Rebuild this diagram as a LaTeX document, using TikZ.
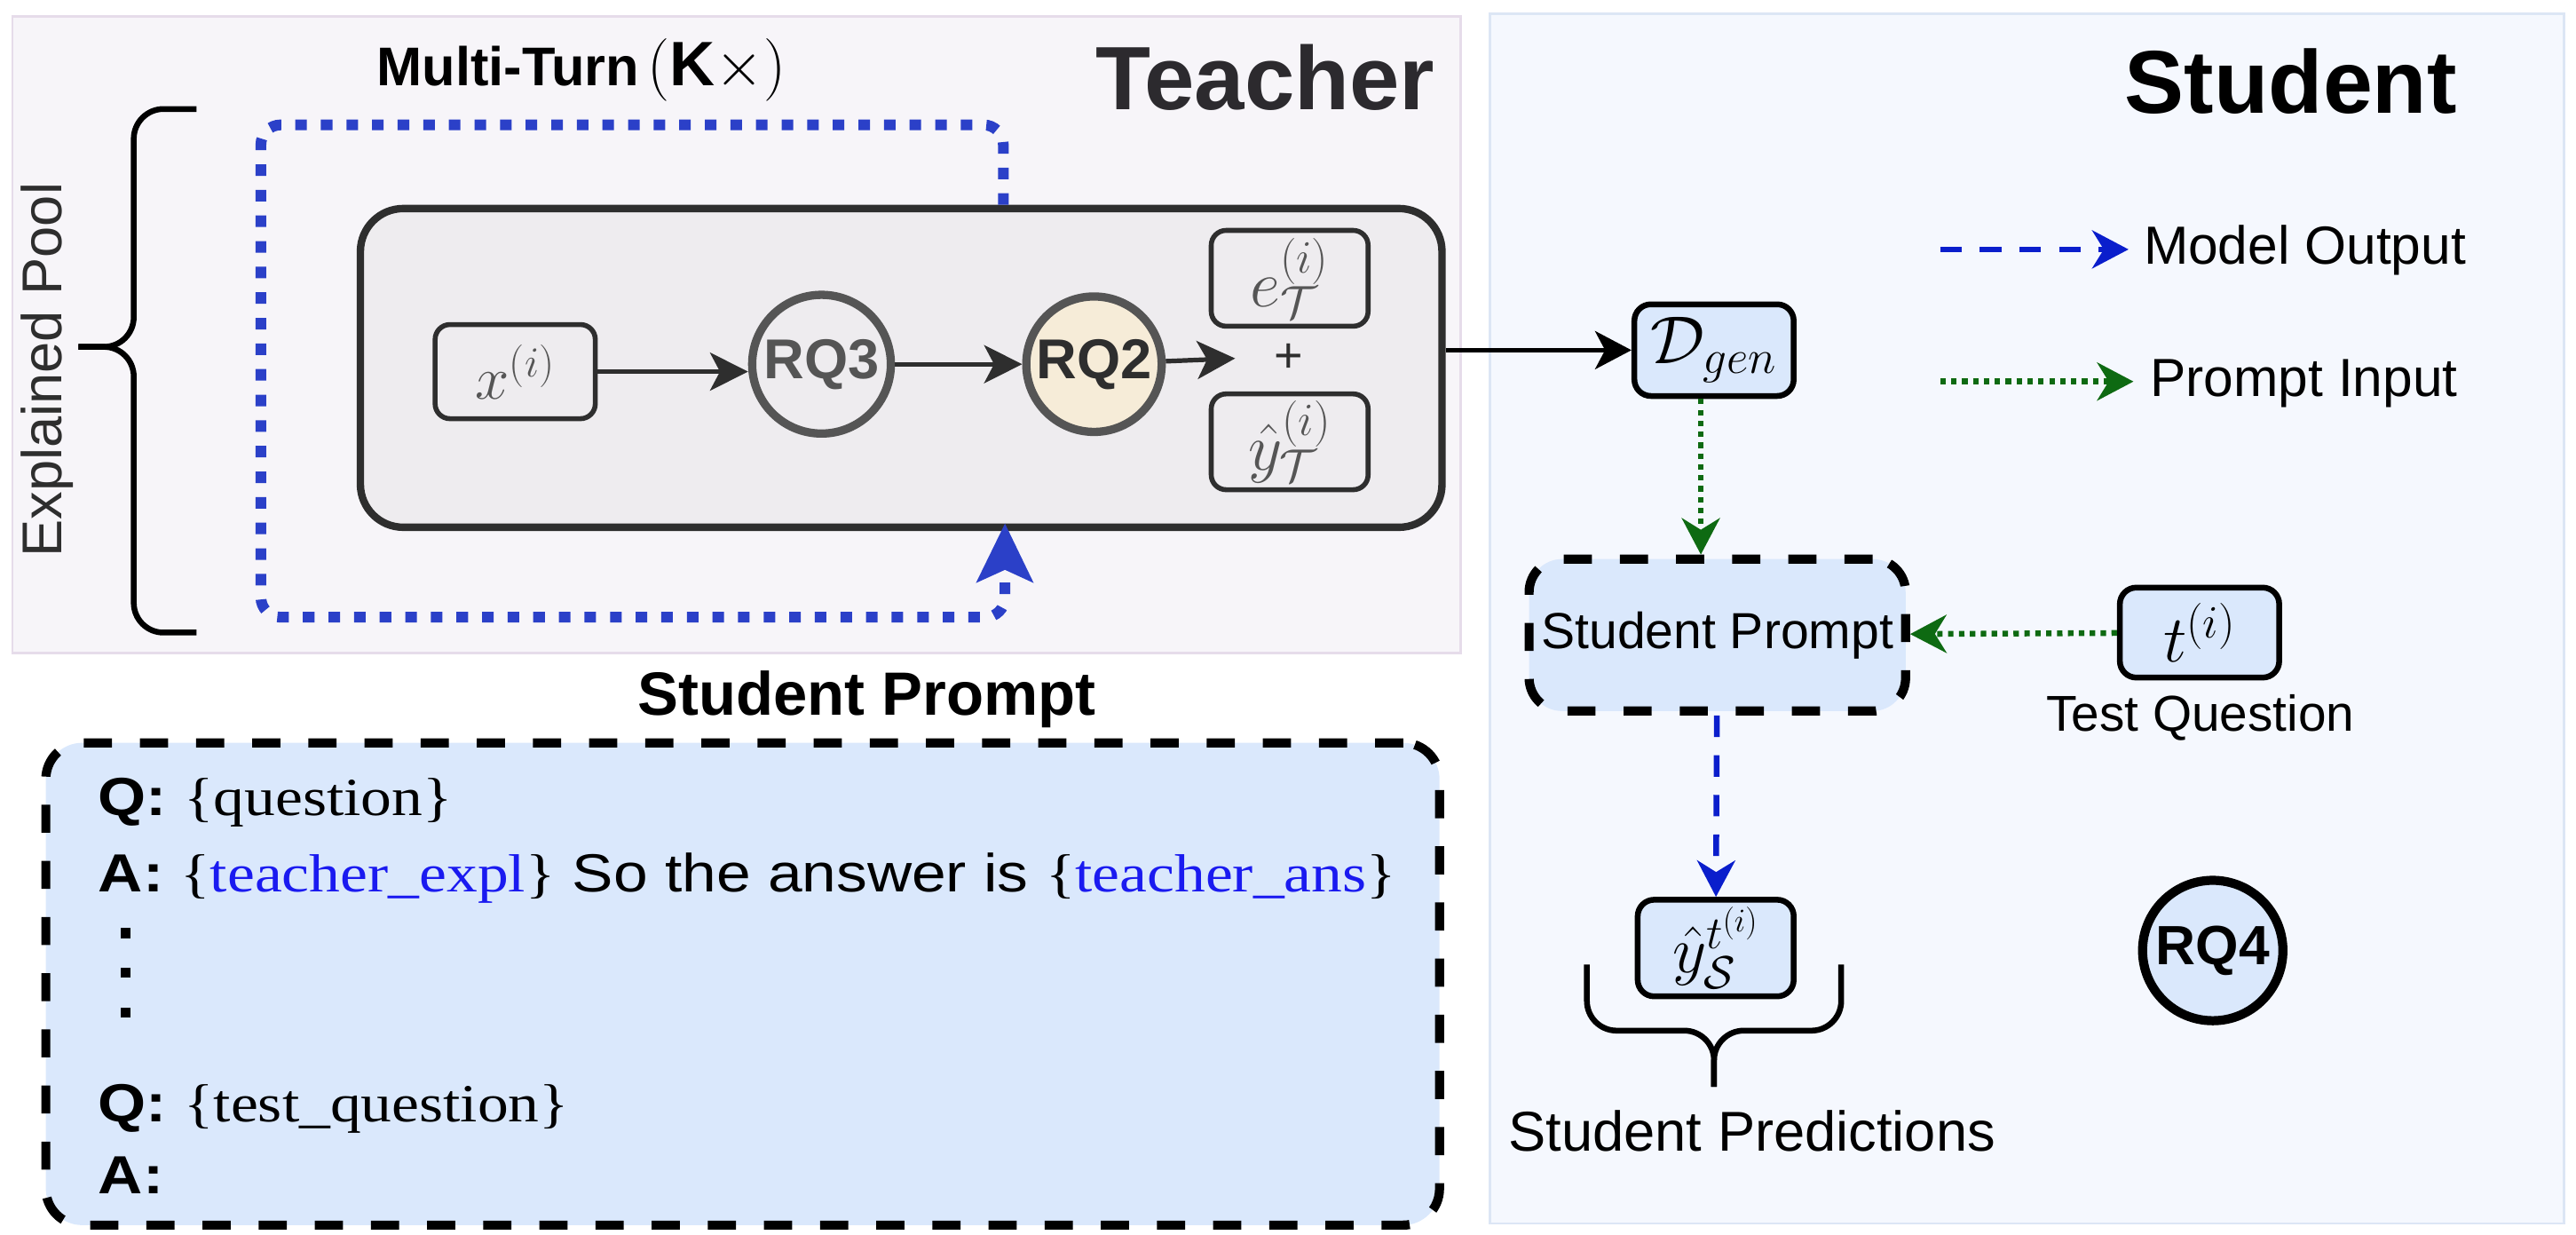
\RequirePackage{fix-cm}
\documentclass[tikz,border=0pt]{standalone}
\usepackage{fontspec}
\setmainfont{Liberation Sans}
\newfontfamily\promptsans[FakeStretch=1.15]{Liberation Sans}
\newfontfamily\promptserif[FakeStretch=1.15]{Liberation Serif}
\usetikzlibrary{arrows.meta,calc}
\definecolor{tfill}{HTML}{F7F5F9}
\definecolor{tborder}{HTML}{E6DCEA}
\definecolor{sfill}{HTML}{F5F8FE}
\definecolor{sborder}{HTML}{DCE6F5}
\definecolor{innerfill}{HTML}{EEECEF}
\definecolor{darkline}{HTML}{2E2E2E}
\definecolor{titlegray}{HTML}{2C2A2E}
\definecolor{grayline}{HTML}{555555}
\definecolor{cream}{HTML}{F6ECD8}
\definecolor{lblue}{HTML}{DAE8FC}
\definecolor{loopblue}{HTML}{2B40C8}
\definecolor{outblue}{HTML}{0A1ECC}
\definecolor{ingreen}{HTML}{0E6A12}
\definecolor{txtblue}{HTML}{1A1AF0}
\tikzset{
  lbl/.style={font=\fontsize{30.5}{36}\selectfont, inner sep=0},
  lgnd/.style={font=\fontsize{32.5}{38}\selectfont, inner sep=0, anchor=base west},
  pline/.style={font=\fontsize{32.5}{38}\promptsans\selectfont, inner sep=0, anchor=base west},
  panelT/.style={draw=tborder, fill=tfill, line width=1.5, inner sep=0},
  panelS/.style={draw=sborder, fill=sfill, line width=1.5, inner sep=0},
  innerbox/.style={draw=darkline, fill=innerfill, line width=4.5, rounded corners=26, inner sep=0},
  smallbox/.style={draw=darkline, fill=innerfill, line width=3, rounded corners=9, inner sep=0, text=grayline, font=\fontsize{40}{46}\selectfont},
  bluebox/.style={draw=black, fill=lblue, line width=3.5, rounded corners=10, inner sep=0, font=\fontsize{41}{46}\selectfont},
  dashbox/.style={draw=black, fill=lblue, line width=5.5, dash pattern=on 17 off 17, rounded corners=20, inner sep=0},
  rqcircle/.style={circle, draw=grayline, fill=innerfill, line width=5, inner sep=0, text=grayline, font=\fontsize{34}{40}\selectfont\bfseries},
  rqfour/.style={circle, draw=black, fill=lblue, line width=5.5, inner sep=0, font=\fontsize{33.5}{38}\selectfont\bfseries},
  darkarrow/.style={draw=darkline, line width=2.8, -{Stealth[length=23,width=23,inset=6]}},
  blackarrow/.style={draw=black, line width=3, -{Stealth[length=22,width=23,inset=6]}},
  greenarrow/.style={draw=ingreen, line width=3.5, dash pattern=on 3.3 off 3.3, -{Stealth[length=22,width=23,inset=7]}},
  bluearrow/.style={draw=outblue, line width=3.5, dash pattern=on 13 off 11, -{Stealth[length=22,width=23,inset=7]}},
  loopline/.style={draw=loopblue, line width=6.5, dash pattern=on 7 off 8.5, rounded corners=12},
  bracket/.style={draw=black, line width=3.5, rounded corners=18},
}
\begin{document}
\begin{tikzpicture}[x=1pt,y=-1pt]
\useasboundingbox (0,0) rectangle (1560,747.3);
% panels
\node[panelT, minimum width=877, minimum height=385.6, anchor=north west] (tpanel) at (6.8,9) {};
\node[panelS, minimum width=650.5, minimum height=732.4, anchor=north west] (spanel) at (901.5,7.6) {};
% titles
\node[inner sep=0, anchor=base west, font=\fontsize{33}{38}\selectfont] (mt) at (228,52) {\textbf{Multi-Turn}\hspace{5pt}{\fontsize{38}{44}\selectfont$(\mathbf{K}\times)$}};
\node[inner sep=0, font=\fontsize{54.5}{60}\selectfont\bfseries, text=titlegray, anchor=base east] (teachert) at (869,66.5) {Teacher};
\node[inner sep=0, font=\fontsize{54}{60}\selectfont\bfseries, anchor=base east] (studentt) at (1488,68.5) {Student};
\node[inner sep=0, font=\fontsize{34}{40}\selectfont, text=darkline, rotate=90, anchor=base] (pool) at (37.6,224) {Explained Pool};
% left brace
\coordinate (brtop) at (119,66);
\coordinate (brbot) at (119,383);
\coordinate (brtip) at (47.5,210);
\draw[bracket] (brtop) -| (81,210) -- (brtip);
\draw[bracket] (brbot) -| (81,210) -- (brtip);
% inner teacher box
\node[innerbox, minimum width=655, minimum height=193, anchor=north west] (tbox) at (216,124) {};
\node[smallbox, minimum width=97, minimum height=57, font=\fontsize{37}{42}\selectfont] (xi) at (312,225) {$x^{(i)}$};
\node[rqcircle, minimum size=84] (rq3) at (497.5,220.5) {RQ3};
\node[rqcircle, fill=cream, text=darkline, minimum size=82] (rq2) at (662.5,220.5) {RQ2};
\node[smallbox, minimum width=95, minimum height=58] (ei) at (781,168.5) {$e_{\mathcal{T}}^{(i)}$};
\node[font=\fontsize{30}{34}\selectfont, text=darkline, inner sep=0] (plus) at (780.5,217) {+};
\node[smallbox, minimum width=95, minimum height=58] (yti) at (781,267.5) {$\hat{y}_{\mathcal{T}}^{(i)}$};
\coordinate (plusin) at (748,217);
\draw[darkarrow] (xi.east) -- (xi.east -| rq3.west);
\draw[darkarrow] (rq3) -- (rq2);
\draw[darkarrow] (rq2) -- (plusin);
% loop
\coordinate (looptop) at (607.6,75.6);
\coordinate (loopleft) at (158,373.7);
\draw[loopline] (tbox.north -| looptop) -- (looptop) -| (loopleft) -| ([xshift=1,yshift=-26]tbox.south -| looptop);
\fill[loopblue] (608.6,317) -- (591,353) -- (608.6,345) -- (626,353) -- cycle;
% student side
\node[bluebox, minimum width=96.5, minimum height=55.5] (dgen) at (1038,212) {$\mathcal{D}_{gen}$};
\draw[blackarrow] (tbox.east |- dgen.west) -- (dgen.west);
% legend
\coordinate (lgoa) at (1175,151);
\coordinate (lgob) at (1289,151);
\coordinate (lgia) at (1175,231);
\coordinate (lgib) at (1292,231);
\draw[bluearrow] (lgoa) -- (lgob);
\draw[greenarrow] (lgia) -- (lgib);
\node[lgnd] (lgot) at (1298,160) {Model Output};
\node[lgnd] (lgit) at (1302,240) {Prompt Input};
\node[dashbox, minimum width=228, minimum height=92, font=\fontsize{30.7}{36}\selectfont] (sp) at (1040,384.5) {Student Prompt};
\node[bluebox, minimum width=96.5, minimum height=54.5, font=\fontsize{40}{46}\selectfont] (ti) at (1332,383) {$t^{(i)}$};
\node[lbl, anchor=base] (tq) at (1332.5,442.6) {Test Question};
\draw[greenarrow] ([xshift=-8]dgen.south) -- ([xshift=-8]dgen.south |- sp.north);
\draw[greenarrow] (ti) -- (sp);
\node[bluebox, minimum width=94.5, minimum height=58.5, font=\fontsize{40}{46}\selectfont] (ys) at (1039,574) {$\hat{y}_{\mathcal{S}}^{t^{(i)}}$};
\draw[bluearrow] (sp) -- (ys);
\coordinate (pbl) at (961,584);
\coordinate (pbr) at (1115,584);
\coordinate (pbtip) at (1038,658);
\draw[bracket] (pbl) |- (1038,624) -- (pbtip);
\draw[bracket] (pbr) |- (1038,624) -- (pbtip);
\node[inner sep=0, anchor=base, font=\fontsize{34}{40}\selectfont] (preds) at (1061,697) {Student Predictions};
\node[rqfour, minimum size=85] (rq4) at (1340,575.5) {RQ4};
% bottom prompt
\node[inner sep=0, anchor=base, font=\fontsize{37}{42}\selectfont\bfseries] (sph) at (525,433) {Student Prompt};
\node[dashbox, minimum width=844, minimum height=292, rounded corners=22, anchor=north west] (pbox) at (25,447) {};
\node[pline] (l1) at (59.4,494) {\textbf{Q:} {\promptserif\{question\}}};
\node[pline] (l2) at (59.4,540) {\textbf{A:} {\promptserif\{\textcolor{txtblue}{teacher\_expl}\}} So the answer is {\promptserif\{\textcolor{txtblue}{teacher\_ans}\}}};
\fill (73,562) rectangle (79,568);
\fill (73,586) rectangle (79,592);
\fill (73,610) rectangle (79,616);
\node[pline] (l3) at (59.4,679) {\textbf{Q:} {\promptserif\{test\_question\}}};
\node[pline] (l4) at (59.4,723) {\textbf{A:}};
\end{tikzpicture}
\end{document}
